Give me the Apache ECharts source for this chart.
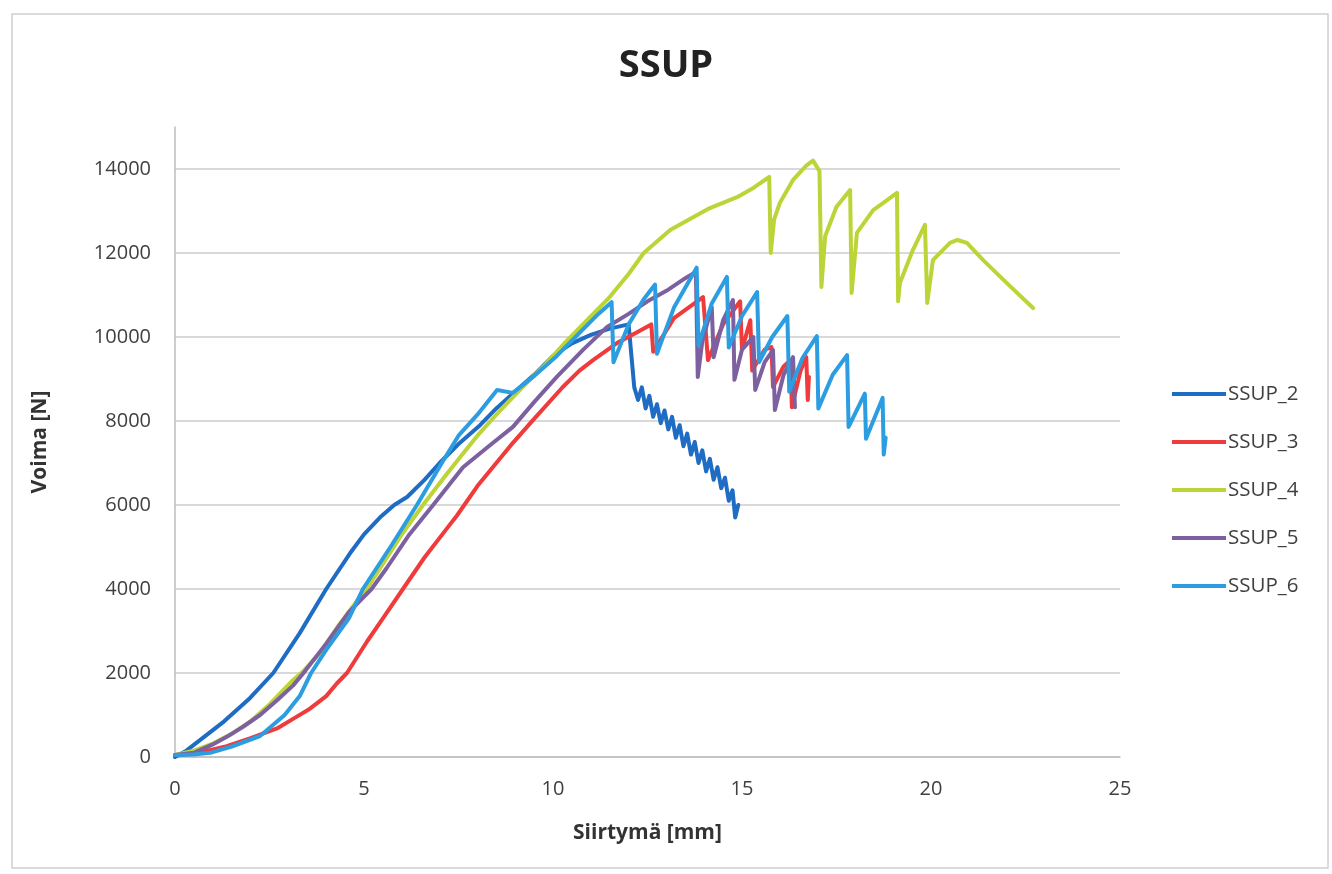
<!DOCTYPE html>
<html>
<head>
<meta charset="utf-8">
<script src="https://cdn.jsdelivr.net/npm/echarts@6/dist/echarts.min.js"></script>
<style>html,body{margin:0;padding:0;background:#fff;}#c{width:1332px;height:874px;}</style>
</head>
<body>
<div id="c"></div>
<script>
const seriesNames = ['SSUP_2', 'SSUP_3', 'SSUP_4', 'SSUP_5', 'SSUP_6'];
const xTicks = [0, 5, 10, 15, 20, 25];
const yTicks = [0, 2000, 4000, 6000, 8000, 10000, 12000, 14000];

const ssup2 = [[0,0],[0.3,150],[0.66,400],[1.3,850],[1.98,1400],[2.6,2000],[3.3,2950],[4.0,4000],[4.63,4850],[5.0,5300],[5.42,5700],[5.8,6000],[6.14,6190],[6.6,6600],[7.0,7000],[7.5,7450],[8.07,7900],[8.5,8300],[9.0,8700],[9.5,9100],[10.0,9550],[10.5,9850],[11.0,10050],[11.5,10200],[12.0,10300],[12.08,9500],[12.15,8800],
  [12.25,8500],[12.35,8800],[12.45,8300],[12.55,8600],[12.65,8100],[12.75,8400],[12.85,7950],[12.95,8250],[13.05,7800],[13.15,8100],[13.25,7600],[13.35,7900],[13.45,7400],[13.55,7700],[13.65,7200],[13.75,7500],[13.85,7000],[13.95,7300],[14.05,6800],[14.15,7100],[14.25,6600],[14.35,6900],[14.45,6400],[14.55,6650],[14.65,6100],[14.75,6350],[14.82,5700],[14.9,6000]];

const ssup3 = [[0,50],[0.5,80],[1.0,180],[1.37,260],[2.0,450],[2.7,680],[3.2,950],[3.57,1150],[4.0,1450],[4.28,1750],[4.55,2000],[5.08,2750],[5.5,3300],[6.03,4000],[6.6,4750],[7.2,5450],[7.46,5750],[8.0,6450],[8.5,7000],[8.94,7480],[9.5,8050],[10.26,8810],[10.7,9200],[11.06,9450],[11.7,9860],[12.2,10100],[12.6,10300],[12.65,9650],[13.2,10450],[13.97,10950],[14.1,9450],[14.5,10300],[14.95,10850],[15.0,9700],[15.22,10400],[15.27,9200],[15.6,9700],[15.78,9760],[15.82,8810],[16.1,9300],[16.28,9450],[16.32,8330],[16.55,9200],[16.7,9520],[16.74,8500],[16.77,9050]];

const ssup4 = [[0,50],[0.5,150],[1.0,320],[1.5,550],[2.0,850],[2.5,1250],[3.12,1830],[3.4,2050],[3.84,2480],[4.3,3100],[4.8,3700],[5.07,4000],[5.5,4600],[6.0,5300],[6.56,6000],[7.2,6750],[7.6,7200],[8.0,7650],[8.6,8250],[9.3,8900],[9.8,9350],[10.3,9850],[10.9,10400],[11.5,10950],[12.0,11500],[12.4,12000],[13.1,12550],[13.6,12800],[14.15,13070],[14.87,13330],[15.3,13550],[15.72,13810],[15.76,12000],[15.85,12800],[16.0,13190],[16.35,13740],[16.7,14080],[16.88,14200],[17.05,13950],[17.1,11190],[17.2,12400],[17.5,13100],[17.86,13500],[17.9,11050],[18.04,12480],[18.47,13020],[18.73,13190],[19.1,13430],[19.13,10850],[19.18,11290],[19.52,12070],[19.84,12670],[19.9,10810],[20.05,11830],[20.5,12240],[20.7,12310],[20.95,12240],[21.38,11830],[22.0,11290],[22.7,10690]];

const ssup5 = [[0,50],[0.5,100],[1.0,300],[1.37,480],[1.8,720],[2.25,1000],[2.7,1350],[3.12,1700],[3.4,2000],[4.0,2700],[4.6,3450],[5.2,4000],[5.6,4500],[6.2,5300],[6.83,6000],[7.62,6900],[8.3,7400],[8.94,7860],[9.5,8450],[10.1,9050],[10.8,9700],[11.43,10240],[12.0,10550],[12.5,10850],[13.0,11100],[13.5,11400],[13.78,11550],[13.83,9050],[13.95,9900],[14.2,10710],[14.25,9520],[14.5,10400],[14.76,10880],[14.8,8980],[15.0,9700],[15.3,10000],[15.35,8740],[15.6,9400],[15.82,9690],[15.87,8260],[16.1,9100],[16.35,9520],[16.4,8330]];

const ssup6 = [[0,50],[0.5,60],[0.93,100],[1.5,250],[2.25,500],[2.9,1000],[3.3,1450],[3.6,2000],[4.0,2550],[4.6,3300],[4.97,4000],[5.7,5000],[6.4,6000],[7.09,7050],[7.5,7650],[8.0,8150],[8.52,8740],[8.94,8670],[9.47,9050],[10.1,9550],[10.7,10100],[11.2,10550],[11.55,10830],[11.6,9400],[12.0,10300],[12.4,10900],[12.7,11250],[12.75,9600],[13.2,10700],[13.8,11650],[13.85,9800],[14.2,10800],[14.6,11430],[14.65,9750],[15.0,10500],[15.4,11070],[15.45,9400],[15.8,10000],[16.2,10500],[16.25,8700],[16.6,9500],[16.98,10020],[17.02,8300],[17.4,9100],[17.78,9570],[17.82,7860],[18.25,8650],[18.28,7580],[18.72,8550],[18.75,7200],[18.8,7600]];

const seriesData = [ssup2, ssup3, ssup4, ssup5, ssup6];
const colors = ['#1f6cc4', '#ef3b3b', '#bcd437', '#7d60a0', '#2b9de0'];

const chart = echarts.init(document.getElementById('c'), null, {renderer: 'canvas'});
const txt = '#404040';
const fontFam = '"Open Sans", "Liberation Sans", sans-serif';

chart.setOption({
  animation: false,
  backgroundColor: '#fff',
  color: colors,
  title: {
    text: 'SSUP',
    left: 'center',
    top: 42,
    textStyle: {fontSize: 38, fontWeight: 'bold', color: '#222', fontFamily: fontFam}
  },
  graphic: [{
    type: 'rect', shape: {x: 12, y: 14, width: 1316, height: 854},
    style: {fill: 'none', stroke: '#cfcfcf', lineWidth: 1.5}, silent: true, z: -1
  }],
  grid: {left: 175, right: 212, top: 127, bottom: 117, containLabel: false},
  legend: {
    orient: 'vertical', left: 1172, top: 383, padding: 0,
    icon: 'rect', itemWidth: 54, itemHeight: 4, itemGap: 26,
    textStyle: {fontSize: 20.5, color: txt, fontFamily: fontFam, lineHeight: 22, padding: [0,0,0,-3]},
    data: seriesNames
  },
  xAxis: {
    type: 'value', min: 0, max: 25, interval: 5,
    name: 'Siirtymä [mm]', nameLocation: 'middle', nameGap: 66,
    nameTextStyle: {fontSize: 21, fontWeight: 'bold', color: '#333', fontFamily: fontFam},
    axisLine: {show: true, lineStyle: {color: '#bdbdbd', width: 1.5}},
    axisTick: {show: false},
    splitLine: {show: false},
    axisLabel: {fontSize: 20, color: txt, margin: 22, fontFamily: fontFam,
      formatter: v => xTicks.indexOf(v) >= 0 ? String(v) : ''}
  },
  yAxis: {
    type: 'value', min: 0, max: 15000, interval: 2000,
    name: 'Voima [N]', nameLocation: 'middle', nameGap: 124, nameRotate: 90,
    nameTextStyle: {fontSize: 21, fontWeight: 'bold', color: '#333', fontFamily: fontFam},
    axisLine: {show: true, lineStyle: {color: '#bdbdbd', width: 1.5}},
    axisTick: {show: false},
    splitLine: {show: true, lineStyle: {width: 1.5, color: ['#cccccc','#cccccc','#cccccc','#cccccc','#cccccc','#cccccc','#cccccc','#cccccc','rgba(0,0,0,0)']}},
    axisLabel: {fontSize: 20, color: txt, margin: 24, fontFamily: fontFam, showMaxLabel: false,
      formatter: v => yTicks.indexOf(v) >= 0 ? String(v) : ''}
  },
  series: seriesNames.map((n, i) => ({
    name: n, type: 'line', data: seriesData[i], showSymbol: false, symbol: 'none',
    lineStyle: {width: 4, color: colors[i], join: 'round', cap: 'round'},
    itemStyle: {color: colors[i]}
  }))
});
</script>
</body>
</html>
